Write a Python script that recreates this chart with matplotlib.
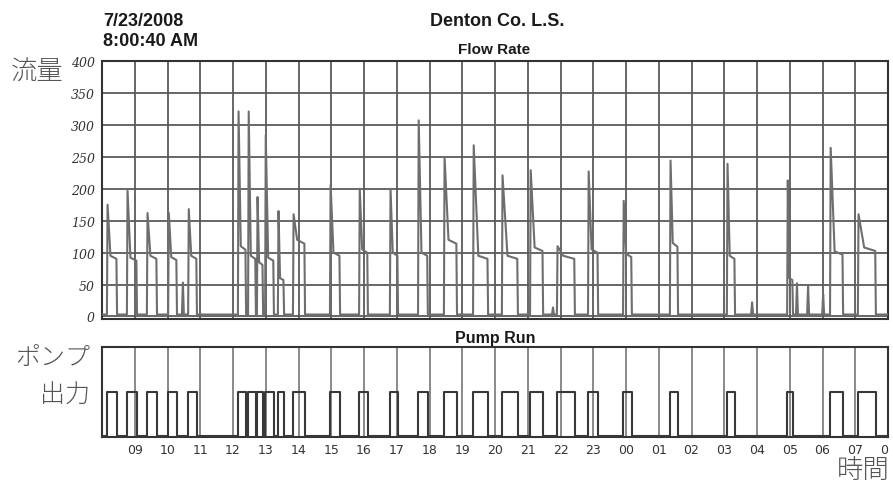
import numpy as np
import matplotlib
matplotlib.use('Agg')
import matplotlib.pyplot as plt

# hours after 8:00 AM (7/23/2008) when each pump cycle starts / stops
cycle_on = [0.15, 0.76, 1.37, 2.02, 2.63, 4.15, 4.46, 4.73, 4.98, 5.37, 5.83,
            6.96, 7.85, 8.79, 9.65, 10.44, 11.33, 12.21, 13.07, 13.89, 14.84,
            15.91, 17.34, 19.08, 20.92, 22.23, 23.08]
cycle_off = [0.46, 1.07, 1.68, 2.29, 2.90, 4.40, 4.70, 4.92, 5.25, 5.56, 6.20,
             7.27, 8.12, 9.04, 9.95, 10.84, 11.79, 12.70, 13.47, 14.44, 15.15,
             16.18, 17.59, 19.33, 21.10, 22.63, 23.63]
# flow at the start-up spike and the level it settles to
peak_flow = [175, 197, 162, 162, 168, 321, 321, 187, 284, 165, 160,
             206, 200, 200, 307, 250, 268, 221, 229, 110, 227,
             181, 244, 239, 213, 264, 160]
plateau_flow = [95, 92, 95, 93, 95, 110, 95, 85, 92, 60, 120,
                100, 105, 100, 100, 120, 95, 95, 108, 95, 105,
                98, 115, 95, 60, 102, 108]
# short blips with no pump run
blip_time = [2.47, 13.77, 19.85, 21.22, 21.56, 22.02]
blip_flow = [53, 14, 22, 52, 48, 35]
base_flow = 3

hour_labels = ['09', '10', '11', '12', '13', '14', '15', '16', '17', '18', '19',
               '20', '21', '22', '23', '00', '01', '02', '03', '04', '05', '06',
               '07', '0']
flow_ticks = [0, 50, 100, 150, 200, 250, 300, 350, 400]


def flow_trace():
    """Builds the flow rate polyline from the cycle readings."""
    t = [0.0]
    v = [base_flow]
    for on, off, pk, pl in zip(cycle_on, cycle_off, peak_flow, plateau_flow):
        t += [on, on + 0.02, on + 0.35 * (off - on), off - 0.02, off]
        v += [base_flow, pk, pl, pl * 0.95, base_flow]
    for bt, bv in zip(blip_time, blip_flow):
        t += [bt - 0.03, bt, bt + 0.03]
        v += [base_flow, bv, base_flow]
    t.append(24.0)
    v.append(base_flow)
    order = np.argsort(t, kind='stable')
    return np.array(t)[order], np.array(v)[order]


def pump_trace():
    """Square wave of pump on/off."""
    t = [0.0]
    v = [0]
    for on, off in zip(cycle_on, cycle_off):
        t += [on, on, off, off]
        v += [0, 1, 1, 0]
    t.append(24.0)
    v.append(0)
    return t, v


def style_spines(ax):
    for s in ax.spines.values():
        s.set_color('#333333')
        s.set_linewidth(1.5)


def main():
    fig = plt.figure(figsize=(8.93, 4.85), dpi=100)
    W, H = 893, 485

    # flow rate panel
    ax1 = fig.add_axes([102 / W, 1 - 320 / H, 786 / W, 258 / H])
    t, v = flow_trace()
    ax1.plot(t, v, color='#6e6e6e', lw=1.5, zorder=3)
    ax1.set_xlim(0, 24)
    ax1.set_ylim(-4, 400)
    ax1.set_xticks(range(1, 24))
    ax1.set_xticklabels([])
    ax1.set_yticks(flow_ticks)
    ax1.set_yticklabels([str(f) for f in flow_ticks], fontstyle='italic',
                        fontsize=9, color='#333333', family='DejaVu Serif')
    ax1.tick_params(length=0, pad=5)
    ax1.grid(True, color='#5a5a5a', lw=1.3)
    style_spines(ax1)

    # pump run panel
    ax2 = fig.add_axes([102 / W, 1 - 438 / H, 786 / W, 90 / H])
    pt, pv = pump_trace()
    ax2.plot(pt, pv, color='#383838', lw=1.5, zorder=3)
    ax2.set_xlim(0, 24)
    ax2.set_ylim(-0.03, 2.05)
    ax2.set_yticks([])
    ax2.set_xticks(range(1, 25))
    ax2.set_xticklabels(hour_labels, fontsize=9, color='#333333')
    ax2.get_xticklabels()[-1].set_horizontalalignment('right')
    ax2.tick_params(length=0, pad=4)
    ax2.grid(True, axis='x', color='#6a6a6a', lw=1.1)
    style_spines(ax2)

    # header text
    bold = dict(fontweight='bold', family='Liberation Sans', color='#1a1a1a')
    fig.text(103 / W, 1 - 21 / H, '7/23/2008', fontsize=13, va='center', **bold)
    fig.text(103 / W, 1 - 42 / H, '8:00:40 AM', fontsize=13, va='center', **bold)
    fig.text(497 / W, 1 - 22 / H, 'Denton Co. L.S.', fontsize=13, ha='center', va='center', **bold)
    fig.text(494 / W, 1 - 50 / H, 'Flow Rate', fontsize=11, ha='center', va='center', **bold)
    fig.text(495 / W, 1 - 339 / H, 'Pump Run', fontsize=11.5, ha='center', va='center', **bold)

    # Japanese annotations
    jp = dict(family=['Noto Sans CJK JP', 'DejaVu Sans'], color='#555555',
              fontweight='light')
    fig.text(37 / W, 1 - 72 / H, '流量', fontsize=19, ha='center', va='center', **jp)
    fig.text(90 / W, 1 - 358 / H, 'ポンプ', fontsize=18, ha='right', va='center', **jp)
    fig.text(90 / W, 1 - 396 / H, '出力', fontsize=18, ha='right', va='center', **jp)
    fig.text(890 / W, 1 - 470 / H, '時間', fontsize=19, ha='right', va='center', **jp)

    fig.savefig('out.png', dpi=100)


if __name__ == "__main__":
    main()
